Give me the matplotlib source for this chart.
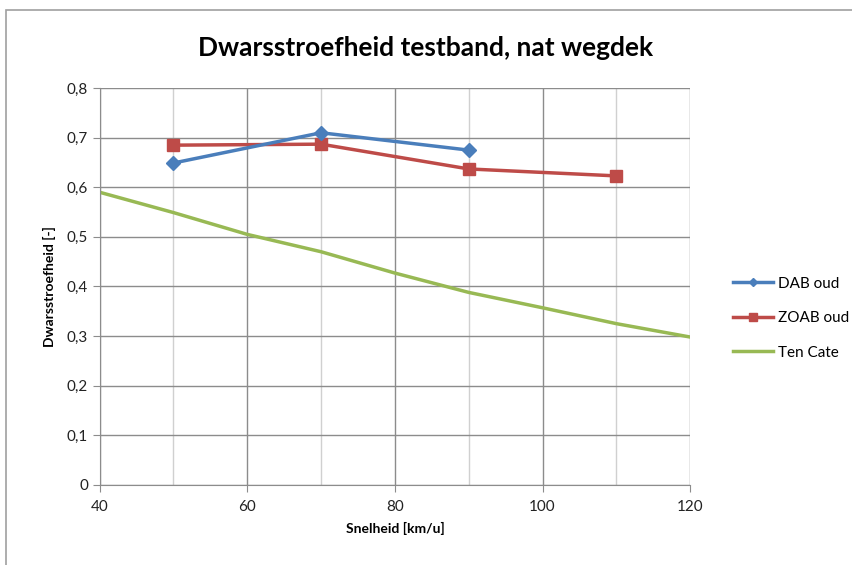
import matplotlib.pyplot as plt
from matplotlib.patches import Rectangle
from matplotlib.ticker import MultipleLocator, FuncFormatter

# data
dab_x = [50, 70, 90]
dab_y = [0.649, 0.710, 0.675]

zoab_x = [50, 70, 90, 110]
zoab_y = [0.685, 0.687, 0.637, 0.623]

tencate_x = [40, 50, 60, 70, 80, 90, 100, 110, 120]
tencate_y = [0.590, 0.549, 0.505, 0.470, 0.427, 0.388, 0.357, 0.325, 0.298]

plt.rcParams['font.family'] = ['Lato', 'DejaVu Sans']

fig = plt.figure(figsize=(8.52, 5.65), dpi=100)
ax = fig.add_axes([0.117, 0.142, 0.693, 0.702])

# outer chart frame, like an Excel chart object
fig.patches.append(Rectangle((6 / 852, -0.1), 1.0, 1 - 10 / 565 + 0.1,
                             transform=fig.transFigure, fill=False,
                             edgecolor='#a0a0a0', linewidth=1.2))

ax.plot(dab_x, dab_y, color='#4A7EBB', linewidth=2.5, marker='D',
        markersize=7, label='DAB oud', zorder=4)
ax.plot(zoab_x, zoab_y, color='#BE4B48', linewidth=2.5, marker='s',
        markersize=9, label='ZOAB oud', zorder=3)
ax.plot(tencate_x, tencate_y, color='#98B954', linewidth=2.5,
        label='Ten Cate', zorder=2)

ax.set_xlim(40, 120)
ax.set_ylim(0, 0.8)
ax.xaxis.set_major_locator(MultipleLocator(20))
ax.xaxis.set_minor_locator(MultipleLocator(10))
ax.yaxis.set_major_locator(MultipleLocator(0.1))
ax.yaxis.set_major_formatter(FuncFormatter(
    lambda v, p: '0' if abs(v) < 1e-9 else f'{v:.1f}'.replace('.', ',')))

ax.grid(True, which='major', color='#8c8c8c', linewidth=1.0)
ax.grid(True, which='minor', axis='x', color='#d0d0d0', linewidth=1.0)
ax.set_axisbelow(True)

for side in ['top', 'right']:
    ax.spines[side].set_visible(False)
for side in ['left', 'bottom']:
    ax.spines[side].set_color('#8c8c8c')

ax.tick_params(which='major', length=5, color='#8c8c8c', labelsize=11,
               labelcolor='#222222')
ax.tick_params(axis='x', which='minor', length=0)
ax.tick_params(axis='x', pad=6)

ax.set_xlabel('Snelheid [km/u]', fontsize=10, fontweight='bold', labelpad=6)
ax.set_ylabel('Dwarsstroefheid [-]', fontsize=10, fontweight='bold', labelpad=8)

fig.text(0.5, 0.915, 'Dwarsstroefheid testband, nat wegdek', ha='center',
         va='center', fontsize=19, fontweight='bold')

ax.legend(loc='center left', bbox_to_anchor=(1.05, 0.42), frameon=False,
          fontsize=11, handlelength=2.6, labelspacing=1.35, handletextpad=0.3,
          markerscale=0.65)

fig.savefig('out.png', dpi=100)
